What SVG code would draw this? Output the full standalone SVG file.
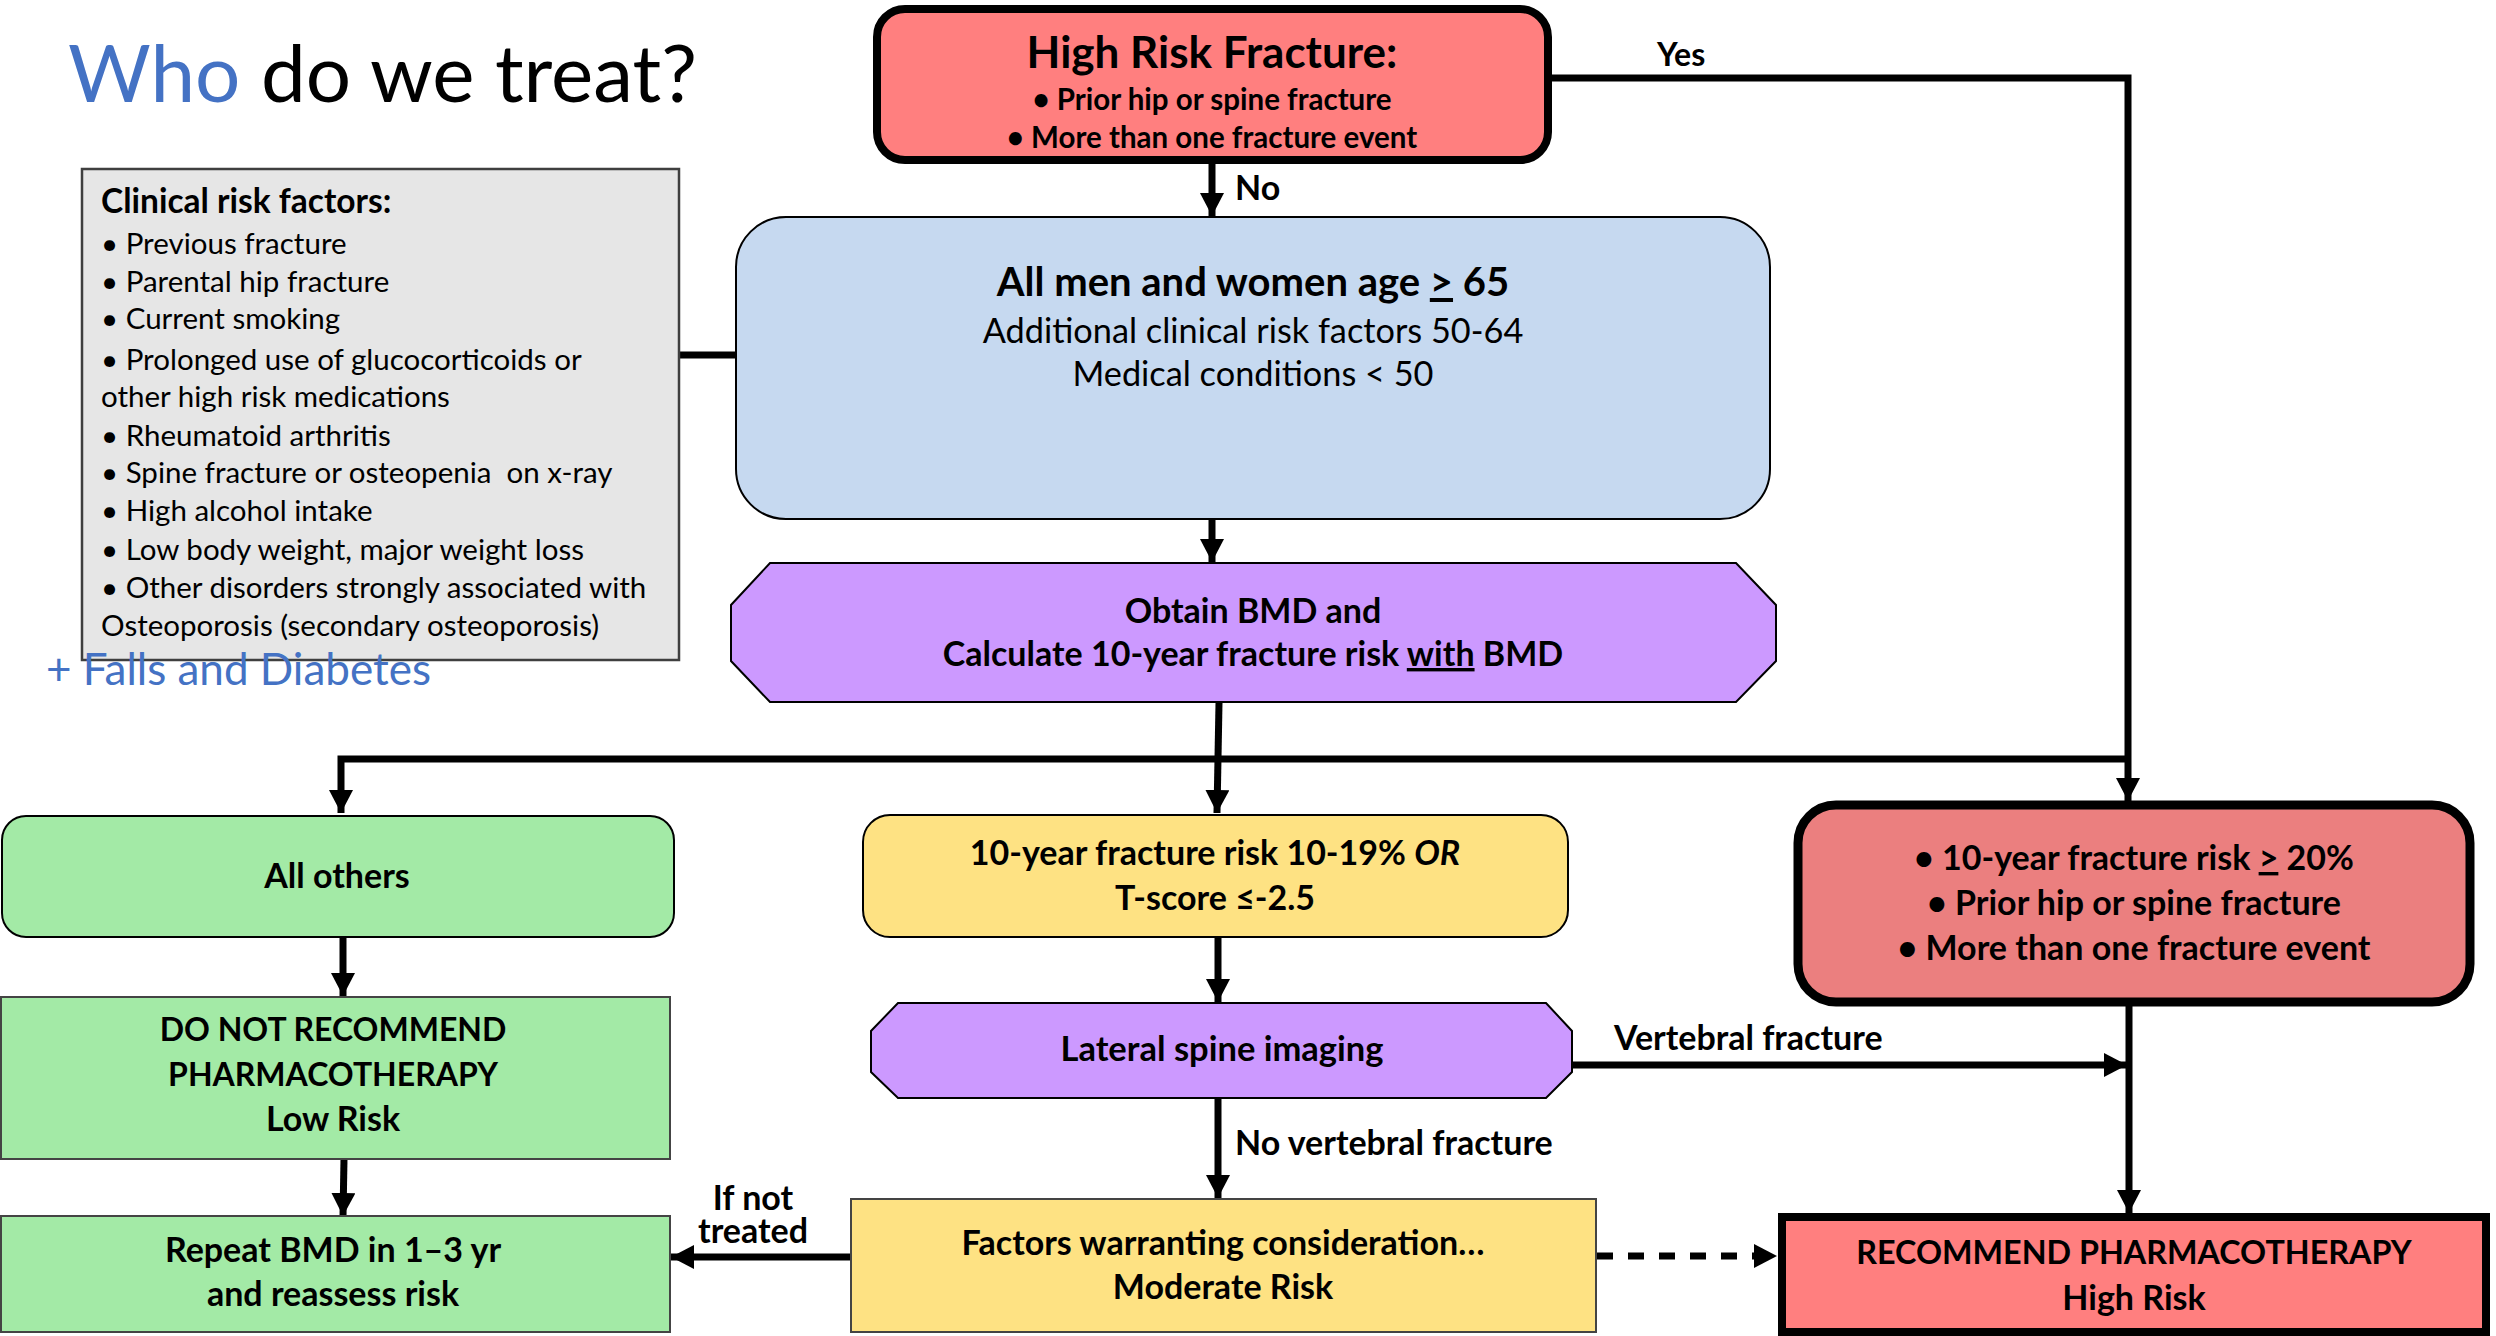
<svg xmlns="http://www.w3.org/2000/svg" width="2496" height="1336" viewBox="0 0 2496 1336">
<defs>
<style>
text{font-family:Lato,"Liberation Sans",sans-serif;fill:#000}
.b{font-weight:bold}
.c{text-anchor:middle}
.node{stroke:#000;stroke-width:2}
.thick{stroke:#000;stroke-width:8}
.conn{fill:none;stroke:#000;stroke-width:7}
.u{text-decoration:underline}
.lbl{font-weight:bold;font-size:34px}
.ct{font-size:29.5px}
</style>
<marker id="ah" markerUnits="userSpaceOnUse" markerWidth="24" markerHeight="24" refX="23" refY="12" orient="auto">
<path d="M0,0 L23,12 L0,24 Z" fill="#000"/>
</marker>
</defs>
<rect width="2496" height="1336" fill="#fff"/>

<text x="68" y="102" font-size="80"><tspan fill="#4472C4" style="fill:#4472C4">Who</tspan> do we treat?</text>

<g id="connectors">
<path class="conn" d="M1550,78 H2128 V801" marker-end="url(#ah)"/>
<path class="conn" d="M1212,164 V216" marker-end="url(#ah)"/>
<path class="conn" d="M680,355 H740"/>
<path class="conn" d="M1212,519 V562" marker-end="url(#ah)"/>
<path class="conn" d="M1219,703 L1217,813" marker-end="url(#ah)"/>
<path class="conn" d="M2128,759 H341 V813" marker-end="url(#ah)"/>
<path class="conn" d="M343,937 V996" marker-end="url(#ah)"/>
<path class="conn" d="M344,1159 L343,1216" marker-end="url(#ah)"/>
<path class="conn" d="M1218,937 V1002" marker-end="url(#ah)"/>
<path class="conn" d="M1218,1098 V1198" marker-end="url(#ah)"/>
<path class="conn" d="M1572,1065 H2127" marker-end="url(#ah)"/>
<path class="conn" d="M2129,1006 V1213" marker-end="url(#ah)"/>
<path class="conn" d="M851,1257 H671" marker-end="url(#ah)"/>
<path class="conn" d="M1597,1256 H1777" stroke-width="9" stroke-dasharray="16 15" marker-end="url(#ah)"/>
<text class="b" x="1657" y="66" font-size="32">Yes</text>
<text class="lbl" x="1235" y="200" font-size="33">No</text>
<text class="lbl" x="1614" y="1050">Vertebral fracture</text>
<text class="lbl" x="1235" y="1155">No vertebral fracture</text>
<text class="lbl c" x="753" y="1210">If not<tspan x="753" y="1243">treated</tspan></text>
</g>

<g id="high-risk-fracture">
<rect class="thick" x="877" y="9" width="671" height="151" rx="28" fill="#FF7F7F"/>
<text class="b c" x="1212" y="68" font-size="44">High Risk Fracture:</text>
<text class="b c" x="1212" y="110" font-size="29.5">• Prior hip or spine fracture</text>
<text class="b c" x="1212" y="148" font-size="29.5">• More than one fracture event</text>
</g>

<g id="clinical-risk-factors">
<rect x="82" y="169" width="597" height="491" fill="#E6E6E6" stroke="#3F3F3F" stroke-width="2.5"/>
<text x="101" y="213" font-size="33.5" class="b">Clinical risk factors:</text>
<text class="ct" x="101" y="254">• Previous fracture</text>
<text class="ct" x="101" y="292">• Parental hip fracture</text>
<text class="ct" x="101" y="329">• Current smoking</text>
<text class="ct" x="101" y="370">• Prolonged use of glucocorticoids or</text>
<text class="ct" x="101" y="407">other high risk medications</text>
<text class="ct" x="101" y="446">• Rheumatoid arthritis</text>
<text class="ct" x="101" y="483" style="white-space:pre">• Spine fracture or osteopenia  on x-ray</text>
<text class="ct" x="101" y="521">• High alcohol intake</text>
<text class="ct" x="101" y="560">• Low body weight, major weight loss</text>
<text class="ct" x="101" y="598">• Other disorders strongly associated with</text>
<text class="ct" x="101" y="636">Osteoporosis (secondary osteoporosis)</text>
</g>
<text x="46" y="685" font-size="44" style="fill:#4472C4">+ Falls and Diabetes</text>

<g id="who-men-women">
<rect class="node" x="736" y="217" width="1034" height="302" rx="50" fill="#C6D9F0"/>
<text class="b c" x="1253" y="296" font-size="40">All men and women age <tspan class="u">&gt;</tspan> 65</text>
<text class="c" x="1253" y="343" font-size="34.3">Additional clinical risk factors 50-64</text>
<text class="c" x="1253" y="386" font-size="34.3">Medical conditions &lt; 50</text>
</g>

<g id="obtain-bmd">
<polygon class="node" points="770,563 1736,563 1776,605 1776,661 1736,702 770,702 731,661 731,605" fill="#CC99FF"/>
<text class="b c" x="1253" y="623" font-size="34">Obtain BMD and</text>
<text class="b c" x="1253" y="666" font-size="34">Calculate 10-year fracture risk <tspan class="u">with</tspan> BMD</text>
</g>

<g id="all-others">
<rect class="node" x="2" y="816" width="672" height="121" rx="24" fill="#A3EAA6"/>
<text class="b c" x="337" y="888" font-size="34">All others</text>
</g>

<g id="moderate-criteria">
<rect class="node" x="863" y="815" width="705" height="122" rx="27" fill="#FEE283"/>
<text class="b c" x="1215" y="865" font-size="34">10-year fracture risk 10-19% <tspan font-style="italic">OR</tspan></text>
<text class="b c" x="1215" y="910" font-size="34">T-score ≤-2.5</text>
</g>

<g id="high-criteria">
<rect x="1798" y="805" width="672" height="197" rx="38" fill="#EB7F7F" stroke="#000" stroke-width="9"/>
<text class="b c" x="2134" y="870" font-size="34">• 10-year fracture risk <tspan class="u">&gt;</tspan> 20%</text>
<text class="b c" x="2134" y="915" font-size="34">• Prior hip or spine fracture</text>
<text class="b c" x="2134" y="960" font-size="34">• More than one fracture event</text>
</g>

<g id="do-not-recommend">
<rect x="1" y="997" width="669" height="162" fill="#A3EAA6" stroke="#444" stroke-width="2"/>
<text class="b c" x="333" y="1041" font-size="32">DO NOT RECOMMEND</text>
<text class="b c" x="333" y="1086" font-size="32">PHARMACOTHERAPY</text>
<text class="b c" x="333" y="1131" font-size="34">Low Risk</text>
</g>

<g id="lateral-spine">
<polygon class="node" points="898,1003 1546,1003 1572,1031 1572,1072 1546,1098 898,1098 871,1072 871,1031" fill="#CC99FF"/>
<text class="b c" x="1222" y="1061" font-size="34.5">Lateral spine imaging</text>
</g>

<g id="repeat-bmd">
<rect x="1" y="1216" width="669" height="116" fill="#A3EAA6" stroke="#444" stroke-width="2"/>
<text class="b c" x="333" y="1262" font-size="34">Repeat BMD in 1–3 yr</text>
<text class="b c" x="333" y="1306" font-size="34">and reassess risk</text>
</g>

<g id="factors-moderate">
<rect x="851" y="1199" width="745" height="133" fill="#FEE283" stroke="#444" stroke-width="2"/>
<text class="b c" x="1223" y="1255" font-size="34">Factors warranting consideration…</text>
<text class="b c" x="1223" y="1299" font-size="34">Moderate Risk</text>
</g>

<g id="recommend">
<rect class="thick" x="1782" y="1217" width="704" height="115" fill="#FF7F7F"/>
<text class="b c" x="2134" y="1264" font-size="32.3">RECOMMEND PHARMACOTHERAPY</text>
<text class="b c" x="2134" y="1310" font-size="34">High Risk</text>
</g>
</svg>
